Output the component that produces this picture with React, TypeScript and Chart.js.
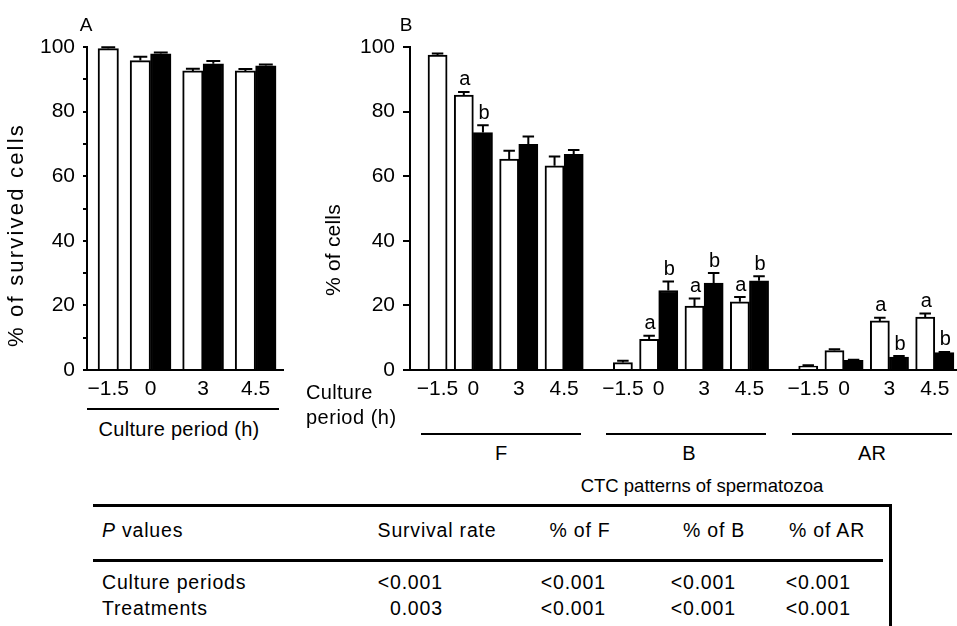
import React, { useEffect, useRef } from 'react';
import { Chart, registerables } from 'chart.js';

Chart.register(...registerables);

const FONT = "'Liberation Sans', Arial, Helvetica, sans-serif";
Chart.defaults.font.family = FONT;
Chart.defaults.color = '#000';

// ---------------- data ----------------
const timeLabels = ['\u22121.5', '0', '3', '4.5'];
const patternLabels = ['F', 'B', 'AR'];

// Panel A: % of survived cells (white = control, black = treated)
const survivalControl = [99.5, 95.8, 92.6, 92.6];
const survivalControlErr = [0.4, 1.2, 0.7, 0.6];
const survivalTreated = [null, 97.9, 94.8, 94.2];
const survivalTreatedErr = [null, 0.4, 0.9, 0.4];

// Panel B: CTC patterns
const fControl = [97.5, 85.1, 65.3, 63.2];
const fControlErr = [0.5, 1.0, 2.6, 2.9];
const fTreated = [null, 73.5, 69.9, 66.8];
const fTreatedErr = [null, 2.3, 2.4, 1.3];
const fControlLetters = ['', 'a', '', ''];
const fTreatedLetters = ['', 'b', '', ''];

const bControl = [2.3, 9.5, 19.8, 21.1];
const bControlErr = [0.6, 1.1, 2.3, 1.5];
const bTreated = [null, 24.6, 26.9, 27.6];
const bTreatedErr = [null, 2.8, 3.1, 1.4];
const bControlLetters = ['', 'a', 'a', 'a'];
const bTreatedLetters = ['', 'b', 'b', 'b'];

const arControl = [1.2, 6.0, 15.2, 16.4];
const arControlErr = [0.3, 0.4, 1.0, 1.1];
const arTreated = [null, 3.0, 4.0, 5.4];
const arTreatedErr = [null, 0.2, 0.3, 0.2];
const arControlLetters = ['', '', 'a', 'a'];
const arTreatedLetters = ['', '', 'b', 'b'];

// P value table
const pHeaderLabel = 'values';
const pColumns = ['Survival rate', '% of F', '% of B', '% of AR'];
const pRowLabels = ['Culture periods', 'Treatments'];
const pCulturePeriods = ['<0.001', '<0.001', '<0.001', '<0.001'];
const pTreatments = ['0.003', '<0.001', '<0.001', '<0.001'];

// ---------------- layout helpers ----------------
type Group = {
  control: (number | null)[];
  controlErr: (number | null)[];
  treated: (number | null)[];
  treatedErr: (number | null)[];
  controlLetters: string[];
  treatedLetters: string[];
};

function buildPanel(groups: Group[], gap: number, groupGap: number) {
  const white: { x: number; y: number }[] = [];
  const black: { x: number; y: number }[] = [];
  const whiteErr: number[] = [];
  const blackErr: number[] = [];
  const whiteLet: string[] = [];
  const blackLet: string[] = [];
  const tickPos: number[] = [];
  const tickLab: string[] = [];
  let pos = 0;
  groups.forEach((g, gi) => {
    if (gi > 0) pos += groupGap;
    g.control.forEach((v, t) => {
      if (t > 0) pos += gap;
      white.push({ x: pos + 0.5, y: v as number });
      whiteErr.push(g.controlErr[t] ?? 0);
      whiteLet.push(g.controlLetters[t] || '');
      const tv = g.treated[t];
      if (tv != null) {
        black.push({ x: pos + 1.5, y: tv });
        blackErr.push(g.treatedErr[t] ?? 0);
        blackLet.push(g.treatedLetters[t] || '');
        tickPos.push(pos + 1);
        pos += 2;
      } else {
        tickPos.push(pos + 0.5);
        pos += 1;
      }
      tickLab.push(timeLabels[t]);
    });
  });
  return { white, black, whiteErr, blackErr, whiteLet, blackLet, tickPos, tickLab, span: pos };
}

const errorBarPlugin = {
  id: 'errorBarsAndLetters',
  afterDatasetsDraw(chart: any) {
    const ctx: CanvasRenderingContext2D = chart.ctx;
    const yS = chart.scales.y;
    const capRatio = chart.options.plugins.errorBarsAndLetters?.capRatio ?? 0.6;
    chart.data.datasets.forEach((ds: any, di: number) => {
      const meta = chart.getDatasetMeta(di);
      meta.data.forEach((bar: any, i: number) => {
        const pt = ds.data[i];
        const err = ds.errorBars[i] || 0;
        const cx = bar.x;
        const w = bar.width;
        const yTop = yS.getPixelForValue(pt.y);
        const yE = yS.getPixelForValue(pt.y + err);
        const cap = w * capRatio;
        ctx.save();
        ctx.strokeStyle = '#000';
        ctx.lineWidth = 2;
        ctx.beginPath();
        ctx.moveTo(cx, yTop);
        ctx.lineTo(cx, yE);
        ctx.moveTo(cx - cap / 2, yE);
        ctx.lineTo(cx + cap / 2, yE);
        ctx.stroke();
        const letter = ds.sigLetters[i];
        if (letter) {
          ctx.fillStyle = '#000';
          ctx.font = `20px ${FONT}`;
          ctx.textAlign = 'center';
          ctx.textBaseline = 'alphabetic';
          ctx.fillText(letter, cx + 1, yE - 6.5);
        }
        ctx.restore();
      });
    });
  },
};

function makeConfig(
  panel: ReturnType<typeof buildPanel>,
  o: { lead: number; trail: number; yStep: number; labelEvery: number; tickLength: number; yWidth: number; padRight: number; capRatio: number }
): any {
  const common = { grouped: false, barPercentage: 1, categoryPercentage: 1, borderWidth: 2, borderColor: '#000' };
  return {
    type: 'bar',
    data: {
      datasets: [
        { label: 'Control', data: panel.white, backgroundColor: '#fff', errorBars: panel.whiteErr, sigLetters: panel.whiteLet, ...common },
        { label: 'Treated', data: panel.black, backgroundColor: '#000', errorBars: panel.blackErr, sigLetters: panel.blackLet, ...common },
      ],
    },
    options: {
      animation: false,
      responsive: false,
      maintainAspectRatio: false,
      layout: { padding: { top: 47, right: o.padRight, bottom: 0, left: 0 } },
      plugins: { legend: { display: false }, tooltip: { enabled: false }, errorBarsAndLetters: { capRatio: o.capRatio } },
      scales: {
        x: {
          type: 'linear',
          min: -o.lead,
          max: panel.span + o.trail,
          offset: false,
          grid: { display: false, drawTicks: false },
          border: { display: true, color: '#000', width: 2 },
          afterBuildTicks: (s: any) => {
            s.ticks = panel.tickPos.map((v) => ({ value: v }));
          },
          ticks: {
            autoSkip: false,
            maxRotation: 0,
            padding: 7,
            color: '#000',
            font: { size: 21, family: FONT },
            callback: (_v: any, i: number) => panel.tickLab[i],
          },
          afterFit: (s: any) => {
            s.height = 30;
          },
        },
        y: {
          min: 0,
          max: 100,
          grid: { drawOnChartArea: false, drawTicks: true, tickLength: o.tickLength, color: '#000', lineWidth: 2 },
          border: { display: true, color: '#000', width: 2 },
          ticks: {
            stepSize: o.yStep,
            autoSkip: false,
            padding: 8,
            color: '#000',
            font: { size: 21, family: FONT },
            callback: (v: any) => (v % o.labelEvery === 0 ? String(v) : ''),
          },
          afterFit: (s: any) => {
            s.width = o.yWidth;
          },
        },
      },
    },
    plugins: [errorBarPlugin],
  };
}

// ---------------- text helper ----------------
const Txt: React.FC<{
  x: number;
  y: number;
  size: number;
  align?: 'left' | 'center' | 'right';
  rotate?: number;
  ls?: number;
  children: React.ReactNode;
}> = ({ x, y, size, align = 'center', rotate = 0, ls = 0, children }) => {
  const tx = align === 'center' ? '-50%' : align === 'right' ? '-100%' : '0';
  return (
    <div
      style={{
        position: 'absolute',
        left: align === 'right' ? x + ls : x,
        top: y,
        fontSize: size,
        lineHeight: 1,
        letterSpacing: ls,
        whiteSpace: 'nowrap',
        fontFamily: FONT,
        color: '#000',
        transform: `translate(${tx}, -50%) rotate(${rotate}deg)`,
      }}
    >
      {children}
    </div>
  );
};

const Line: React.FC<{ x: number; y: number; w: number; h: number }> = ({ x, y, w, h }) => (
  <div style={{ position: 'absolute', left: x, top: y, width: w, height: h, background: '#000' }} />
);

export default function App() {
  const refA = useRef<HTMLCanvasElement>(null);
  const refB = useRef<HTMLCanvasElement>(null);

  useEffect(() => {
    const panelA = buildPanel(
      [
        {
          control: survivalControl,
          controlErr: survivalControlErr,
          treated: survivalTreated,
          treatedErr: survivalTreatedErr,
          controlLetters: [],
          treatedLetters: [],
        },
      ],
      0.57,
      0
    );
    const panelB = buildPanel(
      [
        { control: fControl, controlErr: fControlErr, treated: fTreated, treatedErr: fTreatedErr, controlLetters: fControlLetters, treatedLetters: fTreatedLetters },
        { control: bControl, controlErr: bControlErr, treated: bTreated, treatedErr: bTreatedErr, controlLetters: bControlLetters, treatedLetters: bTreatedLetters },
        { control: arControl, controlErr: arControlErr, treated: arTreated, treatedErr: arTreatedErr, controlLetters: arControlLetters, treatedLetters: arTreatedLetters },
      ],
      0.37,
      1.57
    );
    const a = new Chart(
      refA.current!,
      makeConfig(panelA, { lead: 0.54, trail: 0.34, yStep: 10, labelEvery: 20, tickLength: 4, yWidth: 87, padRight: 7, capRatio: 0.68 })
    );
    const b = new Chart(
      refB.current!,
      makeConfig(panelB, { lead: 0.94, trail: 0.16, yStep: 20, labelEvery: 20, tickLength: 7, yWidth: 120, padRight: 0, capRatio: 0.6 })
    );
    return () => {
      a.destroy();
      b.destroy();
    };
  }, []);

  const colCenters = [437, 580, 714, 827];
  const colRights = [442, 605, 735, 850];
  const tSize = 19.5;
  const tLs = 0.8;
  const patternCenters = [501, 689, 872];
  const patternLines: [number, number][] = [
    [421, 581],
    [606, 766],
    [792, 952],
  ];

  return (
    <div
      style={{
        position: 'absolute',
        left: 0,
        top: 0,
        width: 957,
        height: 626,
        overflow: 'hidden',
        background: '#fff',
      }}
    >
      <canvas ref={refA} width={290} height={400} style={{ position: 'absolute', left: 0, top: 0 }} />
      <canvas ref={refB} width={667} height={400} style={{ position: 'absolute', left: 290, top: 0 }} />

      {/* panel letters */}
      <Txt x={86} y={23.5} size={19}>A</Txt>
      <Txt x={406} y={24} size={19}>B</Txt>

      {/* axis titles */}
      <Txt x={16} y={235} size={22} rotate={-90} ls={2.2}>% of survived cells</Txt>
      <Txt x={332} y={250} size={21} rotate={-90} ls={0.2}>% of cells</Txt>

      {/* panel A x title */}
      <Line x={87} y={408} w={192} h={2} />
      <Txt x={179} y={428.5} size={20} ls={0.3}>Culture period (h)</Txt>

      {/* panel B x titles */}
      <Txt x={306} y={392} size={20} align="left" ls={0.3}>Culture</Txt>
      <Txt x={306} y={417} size={20} align="left" ls={0.5}>period (h)</Txt>
      {patternLines.map(([x1, x2], i) => (
        <Line key={'pl' + i} x={x1} y={433} w={x2 - x1} h={2} />
      ))}
      {patternLabels.map((p, i) => (
        <Txt key={'pt' + i} x={patternCenters[i]} y={453} size={20}>
          {p}
        </Txt>
      ))}
      <Txt x={702} y={486} size={18.5}>CTC patterns of spermatozoa</Txt>

      {/* P value table */}
      <Line x={93} y={504} w={798} h={3} />
      <Line x={889} y={504} w={3} h={130} />
      <Line x={93} y={559} w={790} h={3} />
      <Txt x={102} y={531} size={tSize} align="left" ls={tLs}>
        <i>P</i> {pHeaderLabel}
      </Txt>
      {pColumns.map((c, i) => (
        <Txt key={'pc' + i} x={colCenters[i]} y={531} size={tSize} ls={tLs}>
          {c}
        </Txt>
      ))}
      {pRowLabels.map((r, ri) => (
        <Txt key={'pr' + ri} x={102} y={583 + ri * 26} size={tSize} align="left" ls={tLs}>
          {r}
        </Txt>
      ))}
      {[pCulturePeriods, pTreatments].map((row, ri) =>
        row.map((v, ci) => (
          <Txt key={'pv' + ri + '-' + ci} x={colRights[ci]} y={583 + ri * 26} size={tSize} align="right" ls={tLs}>
            {v}
          </Txt>
        ))
      )}
    </div>
  );
}
